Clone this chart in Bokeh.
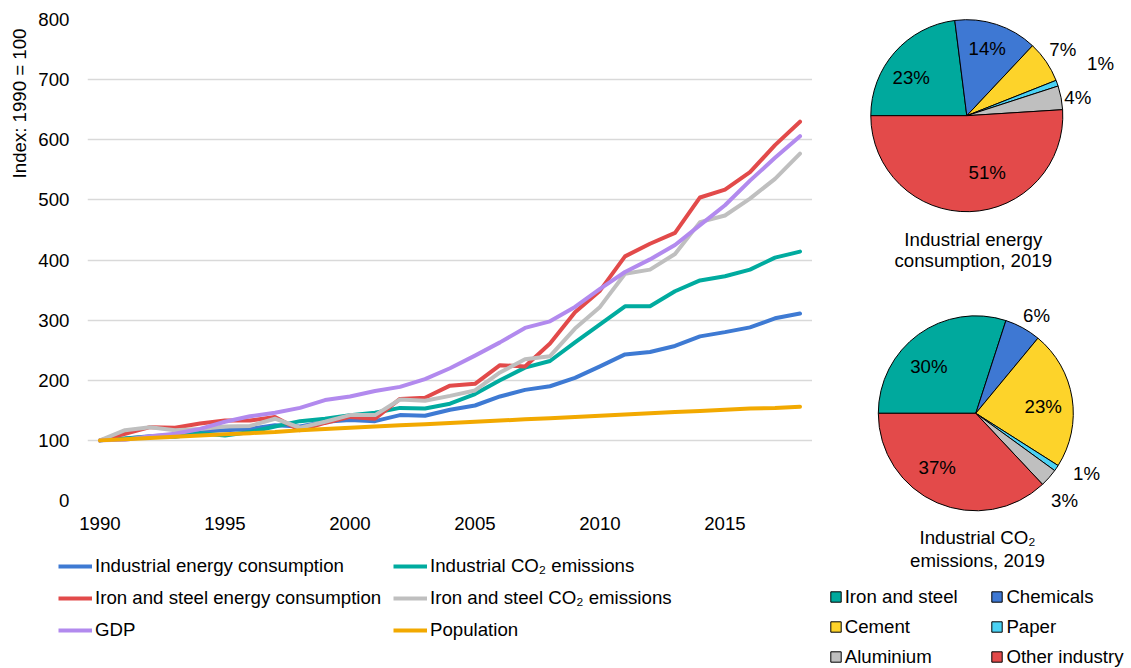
import math
from bokeh.plotting import figure
from bokeh.models import (Range1d, FixedTicker, Legend, LegendItem, Title,
                          ColumnDataSource)
from bokeh.layouts import row, column
from bokeh.embed import file_html
from bokeh.resources import INLINE
from bokeh.core.properties import value

# ---------------- data ----------------
years = list(range(1990, 2019))
industrial_energy = [100, 103, 107, 109, 115, 117, 119, 125, 123, 131, 134, 132, 142, 141, 151,
                     158, 173, 184, 190, 204, 223, 243, 247, 257, 273, 280, 288, 303, 311]
industrial_co2 = [100, 103, 106, 106, 112, 108, 114, 123, 132, 136, 142, 146, 154, 153, 161,
                  177, 200, 221, 232, 263, 293, 323, 323, 348, 366, 373, 384, 404, 414]
steel_energy = [100, 111, 122, 121, 128, 133, 133, 139, 117, 129, 139, 136, 169, 171, 191,
                194, 225, 223, 261, 313, 349, 406, 427, 445, 504, 517, 546, 591, 630]
steel_co2 = [100, 117, 122, 117, 119, 123, 124, 136, 121, 131, 142, 142, 168, 166, 174,
             183, 213, 235, 240, 286, 322, 377, 384, 410, 463, 474, 502, 535, 577]
gdp = [100, 101, 107, 111, 119, 131, 140, 146, 154, 167, 173, 182, 189, 202, 220,
       241, 263, 287, 298, 322, 352, 380, 401, 425, 458, 491, 532, 570, 606]
population = [100, 102, 104, 106, 108, 110, 112, 114, 117, 119, 121, 123, 125, 127, 129,
              131, 133, 135, 137, 139, 141, 143, 145, 147, 149, 151, 153, 154, 156]

series_labels = ["Industrial energy consumption", "Industrial CO\u2082 emissions",
                 "Iron and steel energy consumption", "Iron and steel CO\u2082 emissions",
                 "GDP", "Population"]
y_ticks = [0, 100, 200, 300, 400, 500, 600, 700, 800]
x_ticks = [1990, 1995, 2000, 2005, 2010, 2015]
y_label = "Index: 1990 = 100"

sectors = ["Iron and steel", "Chemicals", "Cement", "Paper", "Aluminium", "Other industry"]
energy_share = [23, 14, 7, 1, 4, 51]
co2_share = [30, 6, 23, 1, 3, 37]
energy_title = ["Industrial energy", "consumption, 2019"]
co2_title = ["Industrial CO\u2082", "emissions, 2019"]

# ---------------- styles ----------------
FONT = "Liberation Sans"
FS = "18.67px"
TXT = "#000000"
line_colors = ["#3E7AD3", "#00AB9F", "#E24A4A", "#BFBFBF", "#B28AEE", "#F2A900"]
pie_colors = ["#00A99D", "#3E78D3", "#FDD32A", "#4BD2F4", "#BFBFBF", "#E34A4A"]
LW = 4

all_series = [industrial_energy, industrial_co2, steel_energy, steel_co2, gdp, population]

# ---------------- line chart ----------------
p = figure(width=812, height=540, x_range=Range1d(1989.5, 2018.5), y_range=Range1d(0, 800),
           output_backend="svg", toolbar_location=None,
           min_border_left=86, min_border_right=0, min_border_top=19, min_border_bottom=40)
p.frame_align = False
p.outline_line_color = None
p.xgrid.visible = False
p.ygrid.grid_line_color = "#D9D9D9"
p.ygrid.grid_line_width = 1.3
p.ygrid.ticker = FixedTicker(ticks=y_ticks)
p.yaxis.ticker = FixedTicker(ticks=y_ticks)
p.xaxis.ticker = FixedTicker(ticks=x_ticks)
for ax in (p.xaxis[0], p.yaxis[0]):
    ax.axis_line_color = None
    ax.major_tick_line_color = None
    ax.minor_tick_line_color = None
    ax.major_tick_out = 0
    ax.minor_tick_out = 0
    ax.major_label_text_font = FONT
    ax.major_label_text_font_size = FS
    ax.major_label_text_color = TXT
p.yaxis.major_label_standoff = 18
p.xaxis.major_label_standoff = 16

# y-axis title, aligned to the top end of the axis
p.add_layout(Title(text=y_label, align="right", offset=9, standoff=12,
                   text_font=FONT, text_font_size=FS, text_font_style="normal",
                   text_color=TXT), "left")

for vals, col in zip(all_series, line_colors):
    src = ColumnDataSource(dict(x=years, y=vals))
    p.line("x", "y", source=src, line_color=col, line_width=LW,
           line_join="round", line_cap="round")

# ---------------- line legend (own panel below the chart) ----------------
lf = figure(width=812, height=128, x_range=Range1d(0, 1), y_range=Range1d(0, 1),
            output_backend="svg", toolbar_location=None, x_axis_location=None,
            y_axis_location=None, min_border=0)
lf.frame_align = False
lf.outline_line_color = None
lf.grid.visible = False
key_renderers = []
for vals, col in zip(all_series, line_colors):
    # same series, outside this panel's view: only used for the legend keys
    key_renderers.append(lf.line(x=years, y=vals, line_color=col, line_width=LW, line_cap="butt"))

def line_legend(idx, loc):
    return Legend(items=[LegendItem(label=series_labels[i], renderers=[key_renderers[i]]) for i in idx],
                  location=loc, orientation="vertical",
                  label_text_font=FONT, label_text_font_size=FS, label_text_color=TXT,
                  glyph_width=34, glyph_height=20, label_height=20, label_standoff=3,
                  spacing=10, padding=0, margin=0, border_line_color=None,
                  background_fill_alpha=0)

lf.add_layout(line_legend((0, 2, 4), (58, 27)), "center")
lf.add_layout(line_legend((1, 3, 5), (393, 27)), "center")

# ---------------- pies ----------------
q = figure(width=319, height=668, x_range=Range1d(0, 319), y_range=Range1d(0, 668),
           output_backend="svg", toolbar_location=None, x_axis_location=None,
           y_axis_location=None, min_border=0)
q.frame_align = False
q.outline_line_color = None
q.grid.visible = False

# layout of pies (centres, radius, label offsets) in pixels
pie1_c, pie1_r = (154.3, 552.8), 96
pie2_c, pie2_r = (163.3, 255.2), 97.5
pie1_label_off = [(-55.6, 37.9), (20.4, 66.9), (96, 65.9), (133.7, 51.9), (111, 18.5), (20.4, -56.5)]
pie2_label_off = [(-47, 46.8), (60.7, 97.8), (67.4, 6.8), (110.7, -59.9), (88.7, -87.2), (-38.6, -53.9)]

def draw_pie(shares, c, r, offs, title_lines, title_xy, gap):
    total = float(sum(shares))
    cum = 0.0
    starts, ends = [], []
    for s in shares:
        a0 = math.pi - 2 * math.pi * cum / total
        cum += s
        a1 = math.pi - 2 * math.pi * cum / total
        starts.append(a1)
        ends.append(a0)
    src = ColumnDataSource(dict(x=[c[0]] * len(shares), y=[c[1]] * len(shares),
                                start=starts, end=ends, color=pie_colors, name=sectors))
    w = q.wedge("x", "y", radius=r, start_angle="start", end_angle="end", source=src,
                fill_color="color", line_color="#000000", line_width=1)
    lsrc = ColumnDataSource(dict(x=[c[0] + o[0] for o in offs], y=[c[1] + o[1] for o in offs],
                                 t=["%d%%" % s for s in shares]))
    q.text("x", "y", text="t", source=lsrc, text_align="center", text_baseline="middle",
           text_font=value(FONT), text_font_size=FS, text_color=TXT)
    tx, ty = title_xy
    tsrc = ColumnDataSource(dict(x=[tx, tx], y=[ty, ty - gap], t=title_lines))
    q.text("x", "y", text="t", source=tsrc, text_align="center", text_baseline="middle",
           text_font=value(FONT), text_font_size=FS, text_color=TXT)
    return w

draw_pie(energy_share, pie1_c, pie1_r, pie1_label_off, energy_title, (160.8, 429), 20.5)
w2 = draw_pie(co2_share, pie2_c, pie2_r, pie2_label_off, co2_title, (165, 131), 22.5)

def pie_legend(idx, loc):
    items = [LegendItem(label=sectors[i], renderers=[w2], index=i) for i in idx]
    return Legend(items=items, location=loc, orientation="vertical",
                  label_text_font=FONT, label_text_font_size=FS, label_text_color=TXT,
                  glyph_width=13, glyph_height=13, label_height=20, label_standoff=3,
                  spacing=8, padding=0, margin=0, border_line_color=None,
                  background_fill_alpha=0)

q.add_layout(pie_legend((0, 2, 4), (16.7, 0.3)), "center")
q.add_layout(pie_legend((1, 3, 5), (178.4, 0.3)), "center")

layout = row(column(p, lf), q)
open("out.html", "w").write(file_html(layout, INLINE))
